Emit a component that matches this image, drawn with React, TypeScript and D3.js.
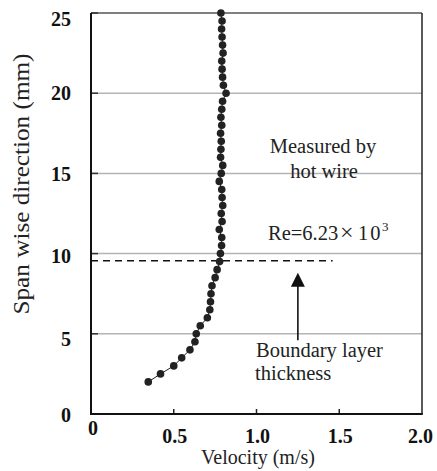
import React from "react";
import * as d3 from "d3";

// Measured span-wise positions (mm) and velocities (m/s)
const spanPositions: number[] = [
  2.0, 2.5, 3.0, 3.5, 4.0, 4.5, 5.0, 5.5, 6.0, 6.5, 7.0, 7.5, 8.0, 8.5, 9.0, 9.5,
  10.0, 10.5, 11.0, 11.5, 12.0, 12.5, 13.0, 13.5, 14.0, 14.5, 15.0, 15.5, 16.0,
  16.5, 17.0, 17.5, 18.0, 18.5, 19.0, 19.5, 20.0, 20.5, 21.0, 21.5, 22.0, 22.5,
  23.0, 23.5, 24.0, 24.5, 25.0,
];
const velocities: number[] = [
  0.346, 0.42, 0.5, 0.548, 0.598, 0.628, 0.636, 0.66, 0.703, 0.718, 0.722, 0.725,
  0.731, 0.75, 0.762, 0.777, 0.782, 0.789, 0.79, 0.775, 0.792, 0.787, 0.796,
  0.792, 0.79, 0.775, 0.787, 0.796, 0.783, 0.785, 0.787, 0.783, 0.79, 0.785,
  0.79, 0.795, 0.816, 0.8, 0.795, 0.792, 0.79, 0.798, 0.795, 0.792, 0.789,
  0.792, 0.785,
];

const xTicks: number[] = [0, 0.5, 1.0, 1.5, 2.0];
const xTickLabels: string[] = ["0", "0.5", "1.0", "1.5", "2.0"];
const yTicks: number[] = [0, 5, 10, 15, 20, 25];
const yTickLabels: string[] = ["0", "5", "10", "15", "20", "25"];

const boundaryThickness = 9.55; // mm
const boundaryLineEnd = 1.46; // m/s
const arrowX = 1.25;
const arrowFrom = 4.6;
const arrowTo = 8.8;

const W = 437;
const H = 471;
const left = 91;
const right = 422;
const top = 13;
const bottom = 414;

const FONT = "Liberation Serif, Times New Roman, serif";

export default function App() {
  const x = d3.scaleLinear().domain([0, 2]).range([left, right]);
  const y = d3.scaleLinear().domain([0, 25]).range([bottom, top]);

  const pts = spanPositions.map((s, i) => ({ v: velocities[i], s }));
  const line = d3
    .line<{ v: number; s: number }>()
    .x((d) => x(d.v))
    .y((d) => y(d.s))(pts) as string;

  const yLabelShift: Record<string, number> = { "25": 13, "20": 7, "15": 8, "10": 9, "5": 12, "0": 8 };

  const ax = x(arrowX);
  const aTip = y(arrowTo);
  const aBase = y(arrowFrom);

  return (
    <div style={{ position: "fixed", left: 0, top: 0 }}>
      <svg width={W} height={H} style={{ display: "block", background: "#fff" }}>
        {/* gridlines */}
        {yTicks
          .filter((t) => t > 0 && t < 25)
          .map((t) => (
            <line key={"g" + t} x1={left} x2={right} y1={y(t)} y2={y(t)} stroke="#b4b4b4" strokeWidth={1.5} />
          ))}
        {/* top border */}
        <line x1={left} x2={right} y1={y(25)} y2={y(25)} stroke="#555" strokeWidth={1.5} />
        {/* right border */}
        <line x1={right} x2={right} y1={top} y2={bottom} stroke="#222" strokeWidth={1.5} />
        {/* y ticks inward */}
        {yTicks
          .filter((t) => t > 0)
          .map((t) => (
            <line key={"yt" + t} x1={left} x2={left + 7} y1={y(t)} y2={y(t)} stroke="#333" strokeWidth={1.5} />
          ))}
        {/* x ticks inward */}
        {xTicks
          .filter((t) => t > 0 && t < 2)
          .map((t) => (
            <line key={"xt" + t} x1={x(t)} x2={x(t)} y1={bottom} y2={bottom - 5} stroke="#222" strokeWidth={1.5} />
          ))}
        {/* axes */}
        <line x1={left} x2={left} y1={top} y2={bottom + 1} stroke="#111" strokeWidth={2} />
        <line x1={left - 1} x2={right + 0.75} y1={bottom} y2={bottom} stroke="#111" strokeWidth={2} />

        {/* y tick labels */}
        {yTicks.map((t, i) => (
          <text
            key={"yl" + t}
            x={71}
            y={y(t) + yLabelShift[yTickLabels[i]]}
            textAnchor="end"
            fontFamily={FONT}
            fontWeight="bold"
            fontSize={20}
            fill="#111"
          >
            {yTickLabels[i]}
          </text>
        ))}
        {/* x tick labels */}
        {xTicks.map((t, i) => (
          <text
            key={"xl" + t}
            x={t === 0 ? x(t) + 2 : t === 2 ? x(t) - 1.5 : x(t) + 1}
            y={t === 0 ? 435 : 443}
            textAnchor="middle"
            fontFamily={FONT}
            fontWeight="bold"
            fontSize={20}
            fill="#111"
          >
            {xTickLabels[i]}
          </text>
        ))}

        {/* axis titles */}
        <text x={258} y={464} textAnchor="middle" fontFamily={FONT} fontSize={20} fill="#222">
          Velocity (m/s)
        </text>
        <text
          transform="translate(29,184) rotate(-90)"
          textAnchor="middle"
          fontFamily={FONT}
          fontSize={22.5}
          fill="#222"
          textLength={261}
          lengthAdjust="spacingAndGlyphs"
        >
          Span wise direction (mm)
        </text>

        {/* boundary layer dashed line */}
        <line
          x1={x(0)}
          x2={x(boundaryLineEnd)}
          y1={y(boundaryThickness)}
          y2={y(boundaryThickness)}
          stroke="#111"
          strokeWidth={1.6}
          strokeDasharray="7,5"
        />

        {/* data */}
        <path d={line} fill="none" stroke="#222" strokeWidth={1} />
        {pts.map((p, i) => (
          <circle key={"c" + i} cx={x(p.v)} cy={y(p.s)} r={3.8} fill="#222" />
        ))}

        {/* arrow */}
        <line x1={ax} x2={ax} y1={aBase} y2={aTip + 12} stroke="#111" strokeWidth={1.6} />
        <path d={`M${ax},${aTip} L${ax - 7},${aTip + 14} L${ax + 7},${aTip + 14} Z`} fill="#111" />

        {/* annotations */}
        <text x={323} y={153} textAnchor="middle" fontFamily={FONT} fontSize={20.5} fill="#222">
          Measured by
        </text>
        <text x={324} y={178} textAnchor="middle" fontFamily={FONT} fontSize={20.5} fill="#222">
          hot wire
        </text>
        <text y={239.5} fontFamily={FONT} fontSize={20.5} fill="#222">
          <tspan x={268}>Re=6.23</tspan>
          <tspan x={340} fontSize={24}>×</tspan>
          <tspan x={358} letterSpacing={2}>10</tspan>
          <tspan x={382} dy={-9} fontSize={13}>3</tspan>
        </text>
        <text x={256} y={357} fontFamily={FONT} fontSize={20.5} fill="#222">
          Boundary layer
        </text>
        <text x={255} y={380} fontFamily={FONT} fontSize={20.5} fill="#222">
          thickness
        </text>
      </svg>
    </div>
  );
}
